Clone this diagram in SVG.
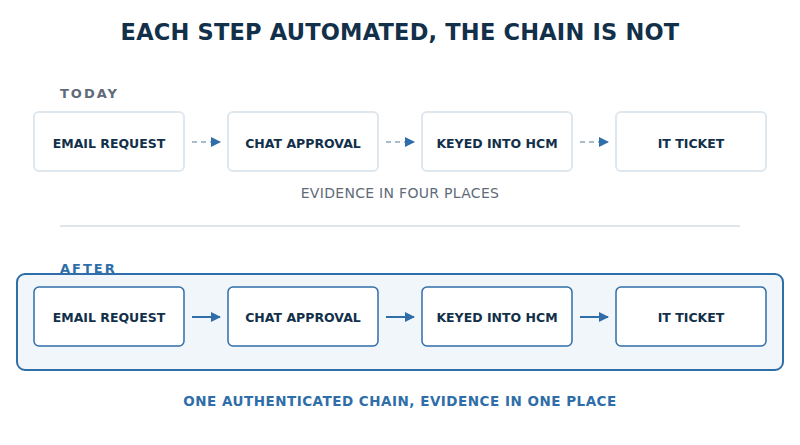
<svg xmlns="http://www.w3.org/2000/svg" width="800" height="445" viewBox="0 0 800 445">
<style>
text{font-family:"DejaVu Sans",sans-serif;text-anchor:middle}
.t{font-size:12.5px;font-weight:bold;fill:#12304a}
.b1{fill:#fff;stroke:#dfe7ee;stroke-width:2}
.b2{fill:#fff;stroke:#2f6ea8;stroke-width:1.5}
.d{stroke:#a9bccc;stroke-width:2;stroke-dasharray:5 4}
.s{stroke:#2f6ea8;stroke-width:2}
</style>
<defs>
<marker id="ah" markerWidth="10" markerHeight="10" refX="9" refY="5" orient="auto" markerUnits="userSpaceOnUse"><path d="M0,0L10,5L0,10z" fill="#2f6ea8"/></marker>
</defs>
<rect width="800" height="445" fill="#fff"/>
<text x="400" y="40" style="font-size:22.5px;font-weight:bold;fill:#12304a;letter-spacing:0.2px">EACH STEP AUTOMATED, THE CHAIN IS NOT</text>
<text x="60" y="98" style="text-anchor:start;font-size:13px;font-weight:bold;fill:#5f6b78;letter-spacing:2px">TODAY</text>
<text x="400" y="198" style="font-size:14px;fill:#5f6b78;letter-spacing:0.3px">EVIDENCE IN FOUR PLACES</text>
<line x1="60" y1="226" x2="740" y2="226" stroke="#dfe5eb" stroke-width="2"/>
<text x="60" y="273" style="text-anchor:start;font-size:13px;font-weight:bold;fill:#2f6ea8;letter-spacing:2px">AFTER</text>
<rect x="17" y="274" width="766" height="96" rx="8" fill="#f1f6fa" stroke="#2f6ea8" stroke-width="2"/>
<text x="400" y="406" style="font-size:13.5px;font-weight:bold;fill:#2f6ea8;letter-spacing:0.5px">ONE AUTHENTICATED CHAIN, EVIDENCE IN ONE PLACE</text>
<g id="t1"><rect class="b1" x="34" y="112" width="150" height="59" rx="5"/><text class="t" x="109" y="148">EMAIL REQUEST</text></g>
<g id="t2"><rect class="b1" x="228" y="112" width="150" height="59" rx="5"/><text class="t" x="303" y="148">CHAT APPROVAL</text></g>
<g id="t3"><rect class="b1" x="422" y="112" width="150" height="59" rx="5"/><text class="t" x="497" y="148">KEYED INTO HCM</text></g>
<g id="t4"><rect class="b1" x="616" y="112" width="150" height="59" rx="5"/><text class="t" x="691" y="148">IT TICKET</text></g>
<g id="a1"><rect class="b2" x="34" y="287" width="150" height="59" rx="5"/><text class="t" x="109" y="322">EMAIL REQUEST</text></g>
<g id="a2"><rect class="b2" x="228" y="287" width="150" height="59" rx="5"/><text class="t" x="303" y="322">CHAT APPROVAL</text></g>
<g id="a3"><rect class="b2" x="422" y="287" width="150" height="59" rx="5"/><text class="t" x="497" y="322">KEYED INTO HCM</text></g>
<g id="a4"><rect class="b2" x="616" y="287" width="150" height="59" rx="5"/><text class="t" x="691" y="322">IT TICKET</text></g>
<g id="connectors">
<line class="d" x1="192" y1="142" x2="220" y2="142" marker-end="url(#ah)"/>
<line class="d" x1="386" y1="142" x2="414" y2="142" marker-end="url(#ah)"/>
<line class="d" x1="580" y1="142" x2="608" y2="142" marker-end="url(#ah)"/>
<line class="s" x1="192" y1="317" x2="220" y2="317" marker-end="url(#ah)"/>
<line class="s" x1="386" y1="317" x2="414" y2="317" marker-end="url(#ah)"/>
<line class="s" x1="580" y1="317" x2="608" y2="317" marker-end="url(#ah)"/>
</g>
</svg>
